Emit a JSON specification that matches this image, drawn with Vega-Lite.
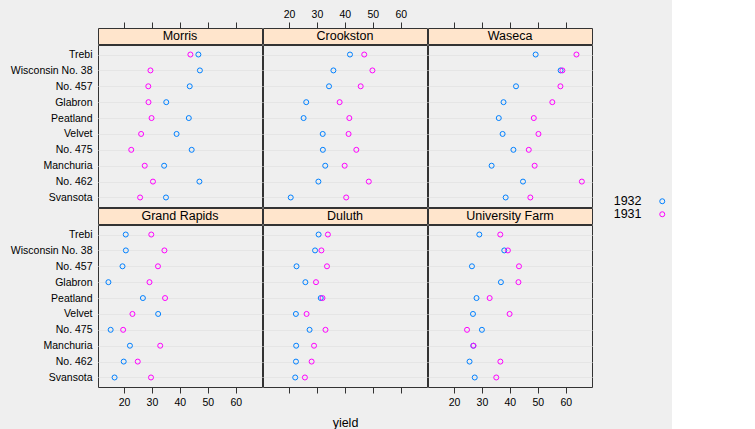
{
"$schema":"https://vega.github.io/schema/vega-lite/v6.json",
"background":"#efefef",
"padding":{"left":9,"top":8,"right":5,"bottom":3},
"datasets":{
"sites":[{"site":"Morris"},{"site":"Crookston"},{"site":"Waseca"},{"site":"Grand Rapids"},{"site":"Duluth"},{"site":"University Farm"}],
"barley":[
{"variety":"Manchuria","year":1932,"site":"University Farm","yield":26.9},
{"variety":"Manchuria","year":1932,"site":"Waseca","yield":33.47},
{"variety":"Manchuria","year":1932,"site":"Morris","yield":34.37},
{"variety":"Manchuria","year":1932,"site":"Crookston","yield":32.97},
{"variety":"Manchuria","year":1932,"site":"Grand Rapids","yield":22.13},
{"variety":"Manchuria","year":1932,"site":"Duluth","yield":22.57},
{"variety":"Glabron","year":1932,"site":"University Farm","yield":36.8},
{"variety":"Glabron","year":1932,"site":"Waseca","yield":37.73},
{"variety":"Glabron","year":1932,"site":"Morris","yield":35.13},
{"variety":"Glabron","year":1932,"site":"Crookston","yield":26.17},
{"variety":"Glabron","year":1932,"site":"Grand Rapids","yield":14.43},
{"variety":"Glabron","year":1932,"site":"Duluth","yield":25.87},
{"variety":"Svansota","year":1932,"site":"University Farm","yield":27.43},
{"variety":"Svansota","year":1932,"site":"Waseca","yield":38.5},
{"variety":"Svansota","year":1932,"site":"Morris","yield":35.03},
{"variety":"Svansota","year":1932,"site":"Crookston","yield":20.63},
{"variety":"Svansota","year":1932,"site":"Grand Rapids","yield":16.63},
{"variety":"Svansota","year":1932,"site":"Duluth","yield":22.23},
{"variety":"Velvet","year":1932,"site":"University Farm","yield":26.8},
{"variety":"Velvet","year":1932,"site":"Waseca","yield":37.4},
{"variety":"Velvet","year":1932,"site":"Morris","yield":38.83},
{"variety":"Velvet","year":1932,"site":"Crookston","yield":32.07},
{"variety":"Velvet","year":1932,"site":"Grand Rapids","yield":32.23},
{"variety":"Velvet","year":1932,"site":"Duluth","yield":22.47},
{"variety":"Trebi","year":1932,"site":"University Farm","yield":29.07},
{"variety":"Trebi","year":1932,"site":"Waseca","yield":49.23},
{"variety":"Trebi","year":1932,"site":"Morris","yield":46.63},
{"variety":"Trebi","year":1932,"site":"Crookston","yield":41.83},
{"variety":"Trebi","year":1932,"site":"Grand Rapids","yield":20.63},
{"variety":"Trebi","year":1932,"site":"Duluth","yield":30.6},
{"variety":"No. 457","year":1932,"site":"University Farm","yield":26.43},
{"variety":"No. 457","year":1932,"site":"Waseca","yield":42.2},
{"variety":"No. 457","year":1932,"site":"Morris","yield":43.53},
{"variety":"No. 457","year":1932,"site":"Crookston","yield":34.33},
{"variety":"No. 457","year":1932,"site":"Grand Rapids","yield":19.47},
{"variety":"No. 457","year":1932,"site":"Duluth","yield":22.7},
{"variety":"No. 462","year":1932,"site":"University Farm","yield":25.57},
{"variety":"No. 462","year":1932,"site":"Waseca","yield":44.7},
{"variety":"No. 462","year":1932,"site":"Morris","yield":47.0},
{"variety":"No. 462","year":1932,"site":"Crookston","yield":30.53},
{"variety":"No. 462","year":1932,"site":"Grand Rapids","yield":19.9},
{"variety":"No. 462","year":1932,"site":"Duluth","yield":22.5},
{"variety":"Peatland","year":1932,"site":"University Farm","yield":28.07},
{"variety":"Peatland","year":1932,"site":"Waseca","yield":36.03},
{"variety":"Peatland","year":1932,"site":"Morris","yield":43.2},
{"variety":"Peatland","year":1932,"site":"Crookston","yield":25.23},
{"variety":"Peatland","year":1932,"site":"Grand Rapids","yield":26.77},
{"variety":"Peatland","year":1932,"site":"Duluth","yield":31.37},
{"variety":"No. 475","year":1932,"site":"University Farm","yield":30.0},
{"variety":"No. 475","year":1932,"site":"Waseca","yield":41.27},
{"variety":"No. 475","year":1932,"site":"Morris","yield":44.23},
{"variety":"No. 475","year":1932,"site":"Crookston","yield":32.13},
{"variety":"No. 475","year":1932,"site":"Grand Rapids","yield":15.23},
{"variety":"No. 475","year":1932,"site":"Duluth","yield":27.37},
{"variety":"Wisconsin No. 38","year":1932,"site":"University Farm","yield":38.0},
{"variety":"Wisconsin No. 38","year":1932,"site":"Waseca","yield":58.17},
{"variety":"Wisconsin No. 38","year":1932,"site":"Morris","yield":47.17},
{"variety":"Wisconsin No. 38","year":1932,"site":"Crookston","yield":35.9},
{"variety":"Wisconsin No. 38","year":1932,"site":"Grand Rapids","yield":20.67},
{"variety":"Wisconsin No. 38","year":1932,"site":"Duluth","yield":29.33},
{"variety":"Manchuria","year":1931,"site":"University Farm","yield":27.0},
{"variety":"Manchuria","year":1931,"site":"Waseca","yield":48.87},
{"variety":"Manchuria","year":1931,"site":"Morris","yield":27.43},
{"variety":"Manchuria","year":1931,"site":"Crookston","yield":39.93},
{"variety":"Manchuria","year":1931,"site":"Grand Rapids","yield":32.97},
{"variety":"Manchuria","year":1931,"site":"Duluth","yield":28.97},
{"variety":"Glabron","year":1931,"site":"University Farm","yield":43.07},
{"variety":"Glabron","year":1931,"site":"Waseca","yield":55.2},
{"variety":"Glabron","year":1931,"site":"Morris","yield":28.77},
{"variety":"Glabron","year":1931,"site":"Crookston","yield":38.13},
{"variety":"Glabron","year":1931,"site":"Grand Rapids","yield":29.13},
{"variety":"Glabron","year":1931,"site":"Duluth","yield":29.67},
{"variety":"Svansota","year":1931,"site":"University Farm","yield":35.13},
{"variety":"Svansota","year":1931,"site":"Waseca","yield":47.33},
{"variety":"Svansota","year":1931,"site":"Morris","yield":25.77},
{"variety":"Svansota","year":1931,"site":"Crookston","yield":40.47},
{"variety":"Svansota","year":1931,"site":"Grand Rapids","yield":29.67},
{"variety":"Svansota","year":1931,"site":"Duluth","yield":25.7},
{"variety":"Velvet","year":1931,"site":"University Farm","yield":39.9},
{"variety":"Velvet","year":1931,"site":"Waseca","yield":50.23},
{"variety":"Velvet","year":1931,"site":"Morris","yield":26.13},
{"variety":"Velvet","year":1931,"site":"Crookston","yield":41.33},
{"variety":"Velvet","year":1931,"site":"Grand Rapids","yield":23.03},
{"variety":"Velvet","year":1931,"site":"Duluth","yield":26.3},
{"variety":"Trebi","year":1931,"site":"University Farm","yield":36.57},
{"variety":"Trebi","year":1931,"site":"Waseca","yield":63.83},
{"variety":"Trebi","year":1931,"site":"Morris","yield":43.77},
{"variety":"Trebi","year":1931,"site":"Crookston","yield":46.93},
{"variety":"Trebi","year":1931,"site":"Grand Rapids","yield":29.77},
{"variety":"Trebi","year":1931,"site":"Duluth","yield":33.93},
{"variety":"No. 457","year":1931,"site":"University Farm","yield":43.27},
{"variety":"No. 457","year":1931,"site":"Waseca","yield":58.1},
{"variety":"No. 457","year":1931,"site":"Morris","yield":28.7},
{"variety":"No. 457","year":1931,"site":"Crookston","yield":45.67},
{"variety":"No. 457","year":1931,"site":"Grand Rapids","yield":32.17},
{"variety":"No. 457","year":1931,"site":"Duluth","yield":33.6},
{"variety":"No. 462","year":1931,"site":"University Farm","yield":36.6},
{"variety":"No. 462","year":1931,"site":"Waseca","yield":65.77},
{"variety":"No. 462","year":1931,"site":"Morris","yield":30.37},
{"variety":"No. 462","year":1931,"site":"Crookston","yield":48.57},
{"variety":"No. 462","year":1931,"site":"Grand Rapids","yield":24.93},
{"variety":"No. 462","year":1931,"site":"Duluth","yield":28.1},
{"variety":"Peatland","year":1931,"site":"University Farm","yield":32.77},
{"variety":"Peatland","year":1931,"site":"Waseca","yield":48.57},
{"variety":"Peatland","year":1931,"site":"Morris","yield":29.87},
{"variety":"Peatland","year":1931,"site":"Crookston","yield":41.6},
{"variety":"Peatland","year":1931,"site":"Grand Rapids","yield":34.7},
{"variety":"Peatland","year":1931,"site":"Duluth","yield":32.0},
{"variety":"No. 475","year":1931,"site":"University Farm","yield":24.67},
{"variety":"No. 475","year":1931,"site":"Waseca","yield":46.77},
{"variety":"No. 475","year":1931,"site":"Morris","yield":22.6},
{"variety":"No. 475","year":1931,"site":"Crookston","yield":44.1},
{"variety":"No. 475","year":1931,"site":"Grand Rapids","yield":19.7},
{"variety":"No. 475","year":1931,"site":"Duluth","yield":33.07},
{"variety":"Wisconsin No. 38","year":1931,"site":"University Farm","yield":39.3},
{"variety":"Wisconsin No. 38","year":1931,"site":"Waseca","yield":58.8},
{"variety":"Wisconsin No. 38","year":1931,"site":"Morris","yield":29.47},
{"variety":"Wisconsin No. 38","year":1931,"site":"Crookston","yield":49.87},
{"variety":"Wisconsin No. 38","year":1931,"site":"Grand Rapids","yield":34.47},
{"variety":"Wisconsin No. 38","year":1931,"site":"Duluth","yield":31.6}
]},
"spacing":-3,
"vconcat":[
{"hconcat":[
 {"vconcat":[
  {"width":164,"height":16,"view":{"fill":"#ffe5cc","stroke":"#333333"},
   "layer":[
    {"data":{"name":"barley"},"transform":[{"filter":"datum.site === 'Morris'"}],"mark":{"type":"point","opacity":0},
     "encoding":{"x":{"field":"yield","type":"quantitative","scale":{"domain":[10.7,69.4],"nice":false,"zero":false},"axis":{"orient":"top","values":[20,30,40,50,60],"tickSize":6,"labelPadding":3,"title":null,"grid":false,"labelOpacity":0}}}},
    {"data":{"name":"sites"},"transform":[{"filter":"datum.site === 'Morris'"}],"mark":{"type":"text","fontSize":12.5,"color":"#000000"},
     "encoding":{"text":{"field":"site","type":"nominal"}}}
   ]},
  {"width":164,"height":162,"data":{"name":"barley"},"transform":[{"filter":"datum.site === 'Morris'"}],
   "mark":{"type":"point","shape":"circle","filled":false,"size":25,"strokeWidth":1,"opacity":1},
   "encoding":{
    "x":{"field":"yield","type":"quantitative","scale":{"domain":[10.7,69.4],"nice":false,"zero":false},"axis":null},
    "y":{"field":"variety","type":"nominal","sort":["Trebi","Wisconsin No. 38","No. 457","Glabron","Peatland","Velvet","No. 475","Manchuria","No. 462","Svansota"],"scale":{"type":"point","padding":0.6},"axis":{"title":null,"ticks":false,"domain":false,"grid":true,"labelPadding":6}},
    "color":{"field":"year","type":"nominal","scale":{"domain":[1932,1931],"range":["#0080ff","#ff00ff"]},"legend":{"orient":"none","legendX":512,"legendY":167,"title":null,"symbolType":"circle","symbolSize":25,"symbolStrokeWidth":1,"labelFontSize":12.5,"labelColor":"#000000","labelAlign":"right","labelOffset":-27,"symbolOffset":46,"rowPadding":0}}
   }}
 ],"spacing":-3},
 {"vconcat":[
  {"width":164,"height":16,"view":{"fill":"#ffe5cc","stroke":"#333333"},
   "layer":[
    {"data":{"name":"barley"},"transform":[{"filter":"datum.site === 'Crookston'"}],"mark":{"type":"point","opacity":0},
     "encoding":{"x":{"field":"yield","type":"quantitative","scale":{"domain":[10.7,69.4],"nice":false,"zero":false},"axis":{"orient":"top","values":[20,30,40,50,60],"tickSize":6,"labelPadding":3,"title":null,"grid":false}}}},
    {"data":{"name":"sites"},"transform":[{"filter":"datum.site === 'Crookston'"}],"mark":{"type":"text","fontSize":12.5,"color":"#000000"},
     "encoding":{"text":{"field":"site","type":"nominal"}}}
   ]},
  {"width":164,"height":162,"data":{"name":"barley"},"transform":[{"filter":"datum.site === 'Crookston'"}],
   "mark":{"type":"point","shape":"circle","filled":false,"size":25,"strokeWidth":1,"opacity":1},
   "encoding":{
    "x":{"field":"yield","type":"quantitative","scale":{"domain":[10.7,69.4],"nice":false,"zero":false},"axis":null},
    "y":{"field":"variety","type":"nominal","sort":["Trebi","Wisconsin No. 38","No. 457","Glabron","Peatland","Velvet","No. 475","Manchuria","No. 462","Svansota"],"scale":{"type":"point","padding":0.6},"axis":{"title":null,"ticks":false,"domain":false,"grid":true,"labels":false}},
    "color":{"field":"year","type":"nominal","scale":{"domain":[1932,1931],"range":["#0080ff","#ff00ff"]},"legend":{"orient":"none","legendX":512,"legendY":167,"title":null,"symbolType":"circle","symbolSize":25,"symbolStrokeWidth":1,"labelFontSize":12.5,"labelColor":"#000000","labelAlign":"right","labelOffset":-27,"symbolOffset":46,"rowPadding":0}}
   }}
 ],"spacing":-3},
 {"vconcat":[
  {"width":164,"height":16,"view":{"fill":"#ffe5cc","stroke":"#333333"},
   "layer":[
    {"data":{"name":"barley"},"transform":[{"filter":"datum.site === 'Waseca'"}],"mark":{"type":"point","opacity":0},
     "encoding":{"x":{"field":"yield","type":"quantitative","scale":{"domain":[10.7,69.4],"nice":false,"zero":false},"axis":{"orient":"top","values":[20,30,40,50,60],"tickSize":6,"labelPadding":3,"title":null,"grid":false,"labelOpacity":0}}}},
    {"data":{"name":"sites"},"transform":[{"filter":"datum.site === 'Waseca'"}],"mark":{"type":"text","fontSize":12.5,"color":"#000000"},
     "encoding":{"text":{"field":"site","type":"nominal"}}}
   ]},
  {"width":164,"height":162,"data":{"name":"barley"},"transform":[{"filter":"datum.site === 'Waseca'"}],
   "mark":{"type":"point","shape":"circle","filled":false,"size":25,"strokeWidth":1,"opacity":1},
   "encoding":{
    "x":{"field":"yield","type":"quantitative","scale":{"domain":[10.7,69.4],"nice":false,"zero":false},"axis":null},
    "y":{"field":"variety","type":"nominal","sort":["Trebi","Wisconsin No. 38","No. 457","Glabron","Peatland","Velvet","No. 475","Manchuria","No. 462","Svansota"],"scale":{"type":"point","padding":0.6},"axis":{"title":null,"ticks":false,"domain":false,"grid":true,"labels":false}},
    "color":{"field":"year","type":"nominal","scale":{"domain":[1932,1931],"range":["#0080ff","#ff00ff"]},"legend":{"orient":"none","legendX":512,"legendY":167,"title":null,"symbolType":"circle","symbolSize":25,"symbolStrokeWidth":1,"labelFontSize":12.5,"labelColor":"#000000","labelAlign":"right","labelOffset":-27,"symbolOffset":46,"rowPadding":0}}
   }}
 ],"spacing":-3}
],"spacing":-3},
{"hconcat":[
 {"vconcat":[
  {"width":164,"height":16,"view":{"fill":"#ffe5cc","stroke":"#333333"},"data":{"name":"sites"},"transform":[{"filter":"datum.site === 'Grand Rapids'"}],
   "mark":{"type":"text","fontSize":12.5,"color":"#000000"},"encoding":{"text":{"field":"site","type":"nominal"}}},
  {"width":164,"height":162,"data":{"name":"barley"},"transform":[{"filter":"datum.site === 'Grand Rapids'"}],
   "mark":{"type":"point","shape":"circle","filled":false,"size":25,"strokeWidth":1,"opacity":1},
   "encoding":{
    "x":{"field":"yield","type":"quantitative","scale":{"domain":[10.7,69.4],"nice":false,"zero":false},"axis":{"orient":"bottom","values":[20,30,40,50,60],"tickSize":6,"labelPadding":4,"title":null,"grid":false}},
    "y":{"field":"variety","type":"nominal","sort":["Trebi","Wisconsin No. 38","No. 457","Glabron","Peatland","Velvet","No. 475","Manchuria","No. 462","Svansota"],"scale":{"type":"point","padding":0.6},"axis":{"title":null,"ticks":false,"domain":false,"grid":true,"labelPadding":6}},
    "color":{"field":"year","type":"nominal","scale":{"domain":[1932,1931],"range":["#0080ff","#ff00ff"]},"legend":{"orient":"none","legendX":512,"legendY":167,"title":null,"symbolType":"circle","symbolSize":25,"symbolStrokeWidth":1,"labelFontSize":12.5,"labelColor":"#000000","labelAlign":"right","labelOffset":-27,"symbolOffset":46,"rowPadding":0}}
   }}
 ],"spacing":-3},
 {"vconcat":[
  {"width":164,"height":16,"view":{"fill":"#ffe5cc","stroke":"#333333"},"data":{"name":"sites"},"transform":[{"filter":"datum.site === 'Duluth'"}],
   "mark":{"type":"text","fontSize":12.5,"color":"#000000"},"encoding":{"text":{"field":"site","type":"nominal"}}},
  {"width":164,"height":162,"data":{"name":"barley"},"transform":[{"filter":"datum.site === 'Duluth'"}],
   "mark":{"type":"point","shape":"circle","filled":false,"size":25,"strokeWidth":1,"opacity":1},
   "encoding":{
    "x":{"field":"yield","type":"quantitative","scale":{"domain":[10.7,69.4],"nice":false,"zero":false},"axis":{"orient":"bottom","values":[20,30,40,50,60],"tickSize":6,"labelPadding":4,"title":"yield","titlePadding":9,"grid":false,"labelOpacity":0}},
    "y":{"field":"variety","type":"nominal","sort":["Trebi","Wisconsin No. 38","No. 457","Glabron","Peatland","Velvet","No. 475","Manchuria","No. 462","Svansota"],"scale":{"type":"point","padding":0.6},"axis":{"title":null,"ticks":false,"domain":false,"grid":true,"labels":false}},
    "color":{"field":"year","type":"nominal","scale":{"domain":[1932,1931],"range":["#0080ff","#ff00ff"]},"legend":{"orient":"none","legendX":512,"legendY":167,"title":null,"symbolType":"circle","symbolSize":25,"symbolStrokeWidth":1,"labelFontSize":12.5,"labelColor":"#000000","labelAlign":"right","labelOffset":-27,"symbolOffset":46,"rowPadding":0}}
   }}
 ],"spacing":-3},
 {"vconcat":[
  {"width":164,"height":16,"view":{"fill":"#ffe5cc","stroke":"#333333"},"data":{"name":"sites"},"transform":[{"filter":"datum.site === 'University Farm'"}],
   "mark":{"type":"text","fontSize":12.5,"color":"#000000"},"encoding":{"text":{"field":"site","type":"nominal"}}},
  {"width":164,"height":162,"data":{"name":"barley"},"transform":[{"filter":"datum.site === 'University Farm'"}],
   "mark":{"type":"point","shape":"circle","filled":false,"size":25,"strokeWidth":1,"opacity":1},
   "encoding":{
    "x":{"field":"yield","type":"quantitative","scale":{"domain":[10.7,69.4],"nice":false,"zero":false},"axis":{"orient":"bottom","values":[20,30,40,50,60],"tickSize":6,"labelPadding":4,"title":null,"grid":false}},
    "y":{"field":"variety","type":"nominal","sort":["Trebi","Wisconsin No. 38","No. 457","Glabron","Peatland","Velvet","No. 475","Manchuria","No. 462","Svansota"],"scale":{"type":"point","padding":0.6},"axis":{"title":null,"ticks":false,"domain":false,"grid":true,"labels":false}},
    "color":{"field":"year","type":"nominal","scale":{"domain":[1932,1931],"range":["#0080ff","#ff00ff"]},"legend":{"orient":"none","legendX":512,"legendY":167,"title":null,"symbolType":"circle","symbolSize":25,"symbolStrokeWidth":1,"labelFontSize":12.5,"labelColor":"#000000","labelAlign":"right","labelOffset":-27,"symbolOffset":46,"rowPadding":0}}
   }}
 ],"spacing":-3}
],"spacing":-3}
],
"config":{
 "font":"Liberation Sans",
 "view":{"stroke":"#333333","strokeWidth":1},
 "axis":{"labelFont":"Liberation Sans","labelFontSize":10.5,"labelColor":"#000000","tickColor":"#333333","domain":false,"titleFont":"Liberation Sans","titleFontSize":12.5,"titleFontWeight":"normal","titleColor":"#000000","gridColor":"#e5e5e5","gridWidth":1},
 "legend":{"labelFont":"Liberation Sans"},
 "text":{"font":"Liberation Sans"}
}
}
